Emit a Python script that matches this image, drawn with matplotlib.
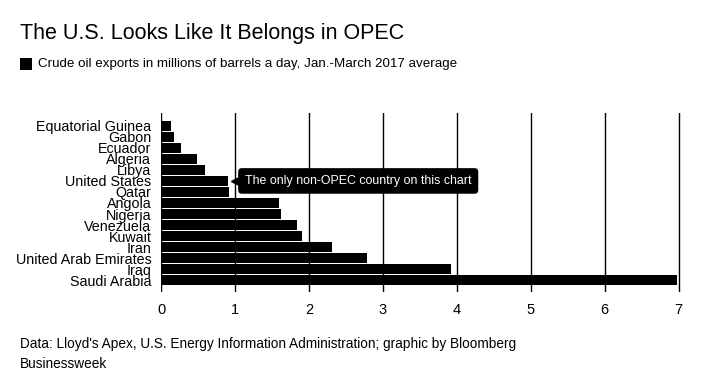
import matplotlib
matplotlib.use('Agg')
import matplotlib.pyplot as plt
from matplotlib.patches import Rectangle

plt.rcParams['font.family'] = ['Liberation Sans', 'DejaVu Sans']

COUNTRIES = ['Equatorial Guinea', 'Gabon', 'Ecuador', 'Algeria', 'Libya',
             'United States', 'Qatar', 'Angola', 'Nigeria', 'Venezuela',
             'Kuwait', 'Iran', 'United Arab Emirates', 'Iraq', 'Saudi Arabia']
EXPORTS = [0.14, 0.18, 0.27, 0.48, 0.59, 0.91, 0.92, 1.60, 1.62, 1.84,
           1.91, 2.31, 2.78, 3.92, 6.97]
X_TICKS = [0, 1, 2, 3, 4, 5, 6, 7]
NOTE = 'The only non-OPEC country on this chart'
NOTE_ROW = COUNTRIES.index('United States')

fig = plt.figure(figsize=(7.2, 3.89), dpi=100)
ax = fig.add_axes([161 / 720, 97 / 389, 520 / 720, 179 / 389])

ypos = list(range(len(COUNTRIES)))
ax.barh(ypos, EXPORTS, height=0.86, color='black', zorder=3)

ax.set_xlim(0, 7.03)
ax.set_ylim(15.07, -1.16)
ax.set_xticks(X_TICKS)
ax.set_xticklabels([str(t) for t in X_TICKS])
ax.set_yticks(ypos)
ax.set_yticklabels(COUNTRIES)
ax.tick_params(axis='y', length=0, pad=7, labelsize=10.3)
ax.tick_params(axis='x', length=0, pad=8, labelsize=10.5)
ax.xaxis.grid(True, color='black', linewidth=1, zorder=1)
ax.set_axisbelow(True)
for s in ax.spines.values():
    s.set_visible(False)

# annotation callout
us_val = EXPORTS[NOTE_ROW]
ax.plot([us_val + 0.09], [NOTE_ROW], marker='<', color='black', markersize=6,
        zorder=4)
ax.text(us_val + 0.225, NOTE_ROW, NOTE, color='white', fontsize=8.9,
        ha='left', va='center', zorder=5,
        bbox=dict(boxstyle='round,pad=0.55,rounding_size=0.3',
                  facecolor='black', edgecolor='none'))

fig.text(20 / 720, 1 - 33 / 389, 'The U.S. Looks Like It Belongs in OPEC',
         fontsize=15.5, ha='left', va='center', color='black')
fig.patches.append(Rectangle((20 / 720, 1 - 70 / 389), 12 / 720, 12 / 389,
                             transform=fig.transFigure, facecolor='black',
                             edgecolor='none'))
fig.text(38 / 720, 1 - 64 / 389,
         'Crude oil exports in millions of barrels a day, Jan.-March 2017 average',
         fontsize=9.6, ha='left', va='center', color='black')
fig.text(20 / 720, 1 - 344 / 389,
         "Data: Lloyd's Apex, U.S. Energy Information Administration; graphic by Bloomberg",
         fontsize=9.8, ha='left', va='center', color='black')
fig.text(20 / 720, 1 - 364 / 389, 'Businessweek',
         fontsize=9.8, ha='left', va='center', color='black')

fig.savefig('out.png', dpi=100, facecolor='white')
